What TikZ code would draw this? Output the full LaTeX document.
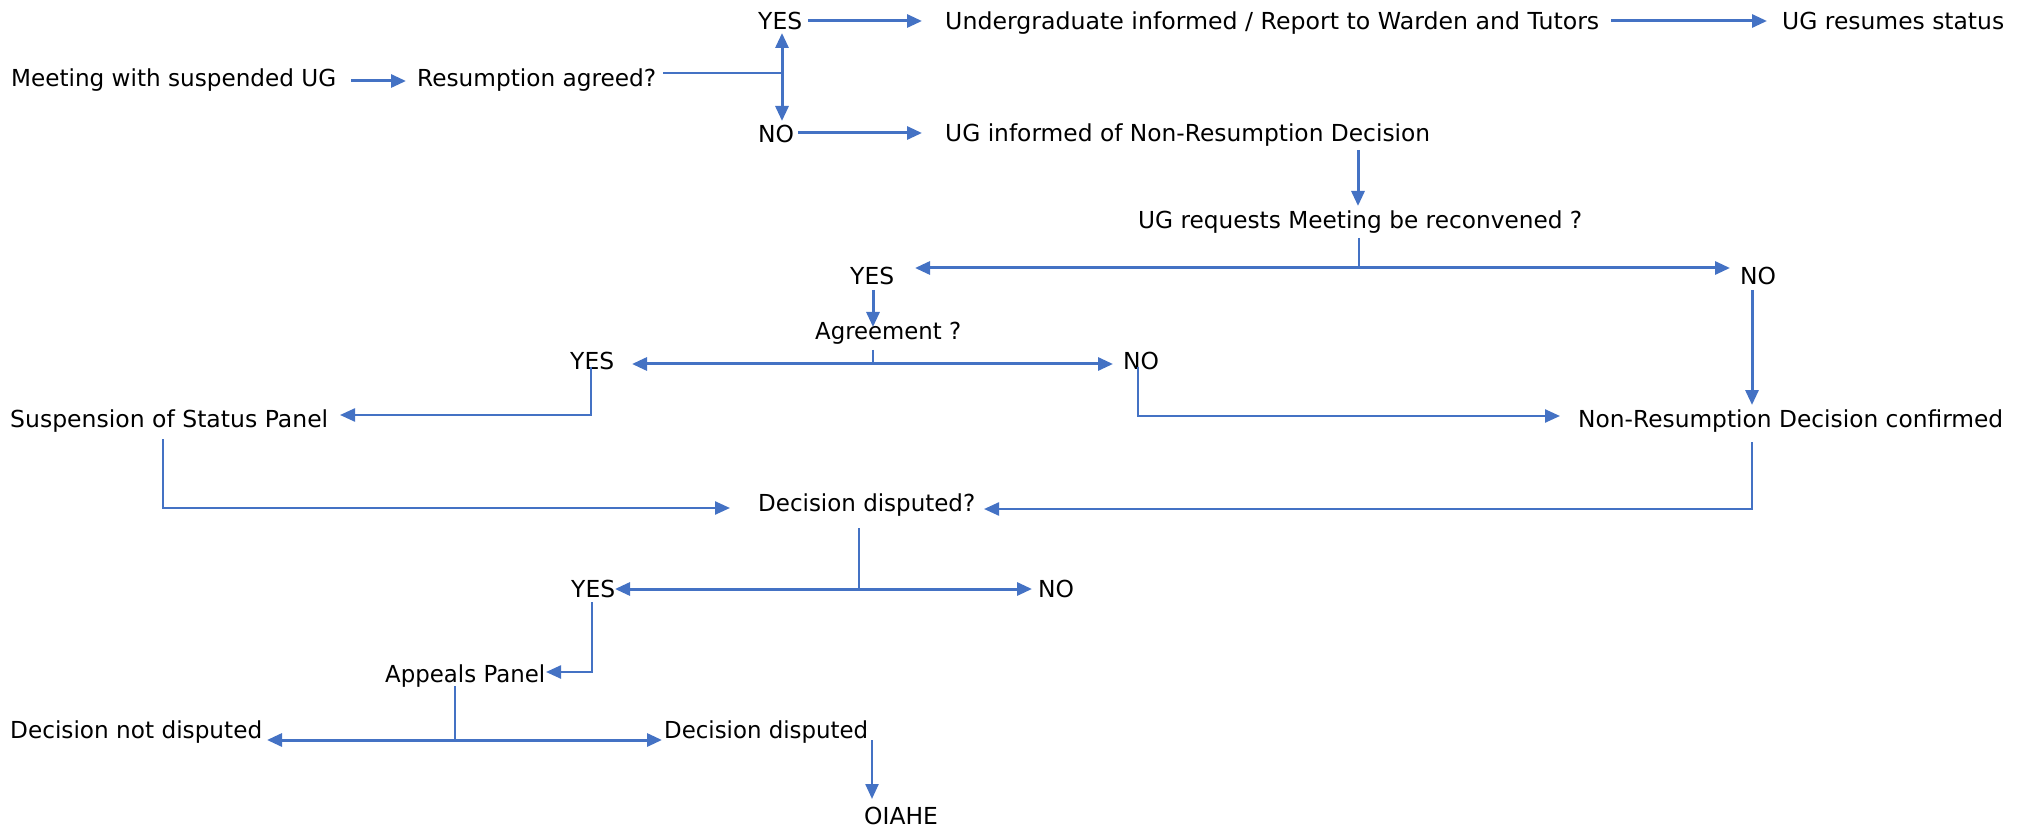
\documentclass[tikz,border=0pt]{standalone}
\usepackage{fontspec}
\usepackage{graphicx}
\setmainfont{DejaVu Sans}
\usetikzlibrary{arrows.meta}
\definecolor{ofblue}{RGB}{68,114,196}
\newcommand\fitw[2]{\resizebox{#1pt}{\height}{#2}}
\tikzset{
  txt/.style={inner sep=0pt, anchor=base west, font=\fontsize{23.4}{28}\selectfont, text=black},
  arr/.style={draw=ofblue, line width=3pt, -{Triangle[length=15pt,width=13pt]}},
  darr/.style={draw=ofblue, line width=3pt, {Triangle[length=15pt,width=13pt]}-{Triangle[length=15pt,width=13pt]}},
  elb/.style={draw=ofblue, line width=2.4pt, -{Triangle[length=15pt,width=13pt]}},
  stub/.style={draw=ofblue, line width=1.3pt},
}
\begin{document}
\begin{tikzpicture}[x=1pt,y=-1pt]
\useasboundingbox (0,0) rectangle (2030,826);
% text nodes
\node[txt] (yes1) at (758,30) {YES};
\node[txt] (ugi) at (945,30) {\fitw{654}{Undergraduate informed / Report to Warden and Tutors}};
\node[txt] (ugr) at (1782,30) {\fitw{222}{UG resumes status}};
\node[txt] (meet) at (11,87) {\fitw{325}{Meeting with suspended UG}};
\node[txt] (res) at (417,87) {\fitw{239}{Resumption agreed?}};
\node[txt] (no1) at (758,143) {NO};
\node[txt] (ugn) at (945,142) {\fitw{485}{UG informed of Non-Resumption Decision}};
\node[txt] (req) at (1138,229) {\fitw{444}{UG requests Meeting be reconvened ?}};
\node[txt] (yes2) at (850,285) {YES};
\node[txt] (no2) at (1740,285) {NO};
\node[txt] (agr) at (815,340) {\fitw{146}{Agreement ?}};
\node[txt] (yes3) at (570,370) {YES};
\node[txt] (no3) at (1123,370) {NO};
\node[txt] (ssp) at (10,427) {\fitw{318}{Suspension of Status Panel}};
\node[txt] (nrc) at (1578,428) {\fitw{425}{Non-Resumption Decision confirmed}};
\node[txt] (dd) at (758,511) {\fitw{217}{Decision disputed?}};
\node[txt] (yes4) at (571,597) {YES};
\node[txt] (no4) at (1038,597) {NO};
\node[txt] (app) at (385,682) {\fitw{160}{Appeals Panel}};
\node[txt] (dnd) at (10,738) {\fitw{252}{Decision not disputed}};
\node[txt] (dis) at (664,738) {\fitw{204}{Decision disputed}};
\node[txt] (oia) at (864,824) {OIAHE};
% connector points
\coordinate (meetE) at (351,81); \coordinate (resW) at (406,81);
\coordinate (resE) at (663,73); \coordinate (j1) at (782,73);
\coordinate (yes1S) at (782,33); \coordinate (no1N) at (782,121);
\coordinate (yes1E) at (808,21); \coordinate (ugiW) at (922,21);
\coordinate (no1E) at (798,133); \coordinate (ugnW) at (922,133);
\coordinate (ugiE) at (1611,21); \coordinate (ugrW) at (1767,21);
\coordinate (ugnS) at (1358,150); \coordinate (reqN) at (1358,206);
\coordinate (reqS) at (1359,238); \coordinate (j2) at (1359,268);
\coordinate (yes2E) at (915,268); \coordinate (no2W) at (1730,268);
\coordinate (yes2S) at (873,290); \coordinate (agrN) at (873,327);
\coordinate (agrS) at (873,350); \coordinate (j3) at (873,364);
\coordinate (yes3E) at (632,364); \coordinate (no3W) at (1113,364);
\coordinate (yes3S) at (591,367); \coordinate (b1) at (591,415); \coordinate (sspE) at (340,415);
\coordinate (no3S) at (1138,367); \coordinate (b2) at (1138,416); \coordinate (nrcW) at (1560,416);
\coordinate (no2S) at (1752,290); \coordinate (nrcN) at (1752,405);
\coordinate (sspS) at (163,439); \coordinate (b3) at (163,508); \coordinate (ddW) at (730,508);
\coordinate (nrcS) at (1752,442); \coordinate (b4) at (1752,509); \coordinate (ddE) at (984,509);
\coordinate (ddS) at (859,528); \coordinate (j4) at (859,589);
\coordinate (yes4E) at (615,589); \coordinate (no4W) at (1032,589);
\coordinate (yes4S) at (592,602); \coordinate (b5) at (592,672); \coordinate (appE) at (546,672);
\coordinate (appS) at (455,686); \coordinate (j5) at (455,740);
\coordinate (dndE) at (267,740); \coordinate (disW) at (662,740);
\coordinate (disE) at (872,740); \coordinate (oiaN) at (872,799);
% connectors
\draw[arr] (meetE) -- (resW);
\draw[stub] (resE) -- (j1);
\draw[darr] (yes1S) -- (no1N);
\draw[arr] (yes1E) -- (ugiW);
\draw[arr] (no1E) -- (ugnW);
\draw[arr] (ugiE) -- (ugrW);
\draw[arr] (ugnS) -- (reqN);
\draw[stub] (reqS) -- (j2);
\draw[darr] (yes2E) -- (no2W);
\draw[arr] (yes2S) -- (agrN);
\draw[stub] (agrS) -- (j3);
\draw[darr] (yes3E) -- (no3W);
\draw[elb] (yes3S) -- (b1) -- (sspE);
\draw[elb] (no3S) -- (b2) -- (nrcW);
\draw[arr] (no2S) -- (nrcN);
\draw[elb] (sspS) -- (b3) -- (ddW);
\draw[elb] (nrcS) -- (b4) -- (ddE);
\draw[stub] (ddS) -- (j4);
\draw[darr] (yes4E) -- (no4W);
\draw[elb] (yes4S) -- (b5) -- (appE);
\draw[stub] (appS) -- (j5);
\draw[darr] (dndE) -- (disW);
\draw[elb] (disE) -- (oiaN);
\end{tikzpicture}
\end{document}
